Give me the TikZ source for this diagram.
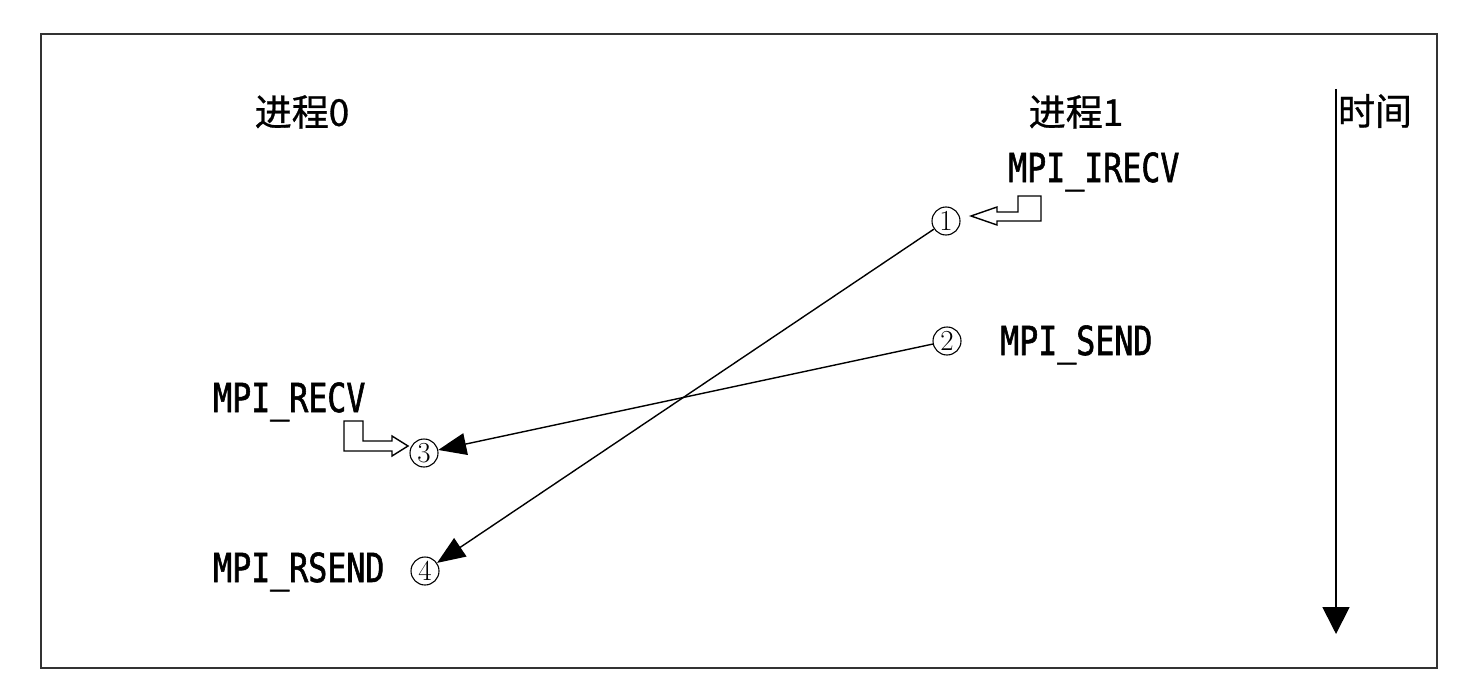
\documentclass[tikz,border=0pt]{standalone}
\usepackage{fontspec}
\usetikzlibrary{arrows.meta}
\newfontfamily\cjkfont[FakeBold=0.8]{Noto Sans CJK SC}
\newfontfamily\mpifont[FakeStretch=0.79, FakeBold=1.4]{DejaVu Sans Mono}
\newcommand{\us}{\char"5F\relax}
\begin{document}
\begin{tikzpicture}[x=1pt,y=-1pt,
  cjklabel/.style={font=\cjkfont\fontsize{37}{37}\selectfont, inner sep=0pt},
  mpilabel/.style={font=\mpifont\fontsize{40}{40}\selectfont, inner sep=0pt, anchor=base west},
  numcirc/.style={circle, draw, line width=1.1pt, minimum size=28pt, inner sep=0pt, font=\fontsize{29}{29}\selectfont},
  msg/.style={line width=1.4pt, -{Triangle[length=28pt,width=22pt]}},
  hook/.style={draw, line width=1.4pt, fill=white, line join=miter}
]
\useasboundingbox (0,0) rectangle (1477,698);
\draw[line width=2pt, black!80] (41,34) rectangle (1437,668);

% titles
\node[cjklabel] (p0) at (302,112) {进程0};
\node[cjklabel] (p1) at (1076,112) {进程1};
\node[cjklabel] (time) at (1375,111) {时间};

% time axis
\coordinate (tTop) at (1336,89);
\coordinate (tBot) at (1336,634);
\draw[line width=1.8pt, -{Triangle[length=27pt,width=27pt]}] (tTop) -- (tBot);

% MPI labels
\node[mpilabel] (irecv) at (1008,182) {MPI\us IRECV};
\node[mpilabel] (send) at (1000,355) {MPI\us SEND};
\node[mpilabel] (recv) at (213,412) {MPI\us RECV};
\node[mpilabel] (rsend) at (213,582) {MPI\us RSEND};

% circled numbers
\node[numcirc] (c1) at (946,221) {1};
\node[numcirc] (c2) at (947,341) {2};
\node[numcirc] (c3) at (424,453) {3};
\node[numcirc] (c4) at (425,571) {4};

% messages
\draw[msg] (c1) -- (c4);
\draw[msg] (c2) -- (c3);

% hollow hook arrows
\draw[hook] (971,216) -- (997,207) -- (997,212) -- (1018,212) -- (1018,196)
  -- (1041,196) -- (1041,221) -- (997,221) -- (997,225) -- cycle;
\draw[hook] (344,421) -- (363,421) -- (363,441) -- (392,441) -- (392,436)
  -- (408,446) -- (392,456) -- (392,451) -- (344,451) -- cycle;
\end{tikzpicture}
\end{document}
